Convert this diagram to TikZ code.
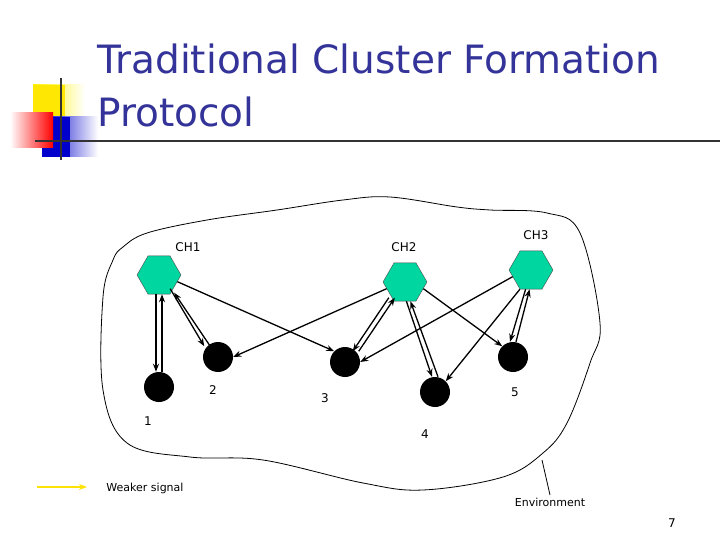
\documentclass[tikz,border=0pt]{standalone}
\usepackage{fontspec}
\setmainfont{DejaVu Sans}
\usetikzlibrary{shapes.geometric,arrows.meta}
\definecolor{ttl}{RGB}{51,51,153}
\definecolor{hexc}{RGB}{0,214,160}
\begin{document}
\begin{tikzpicture}[x=1pt,y=-1pt,
 ch/.style={regular polygon,regular polygon sides=6,draw=black!70,fill=hexc,minimum size=44pt,inner sep=0pt},
 nd/.style={circle,fill=black,minimum size=30pt,inner sep=0pt},
 ar/.style={-{Stealth[length=8pt,width=6pt]},line width=1.3pt},
 lb/.style={font=\fontsize{12}{14}\selectfont}]
\useasboundingbox (0,0) rectangle (720,540);
% decoration
\shade[left color=yellow!90!orange, right color=white] (33,85) rectangle (85,125);
\fill[yellow!90!orange] (33,85) rectangle (65,125);
\shade[left color=blue!80!black, right color=white] (42,117) rectangle (98,157);
\fill[blue!80!black] (42,117) rectangle (70,157);
\shade[left color=white, right color=red] (10,113) rectangle (53,148);
\draw[line width=1.5pt, black!80] (61,78) -- (61,160);
\draw[line width=1.5pt, black!80] (35,141) -- (720,141);
\node[anchor=west,text=ttl,font=\fontsize{39}{53}\selectfont,align=left,inner sep=0pt] (title) at (97,85) {Traditional Cluster Formation\\Protocol};
% environment
\draw[line width=0.8pt] plot[smooth cycle,tension=0.6] coordinates {(113,260) (103,297) (103,390) (127,443) (190,457) (263,460) (363,483) (423,490) (503,477) (543,453) (567,423) (590,363) (600,323) (580,233) (547,213) (490,210) (457,207) (390,197) (343,200) (277,210) (207,220) (147,233) (123,247)};
\coordinate (envp) at (542,460);
\node[lb,anchor=north,font=\fontsize{11}{13}\selectfont] (envl) at (550,495) {Environment};
\draw[line width=0.8pt] (envp) -- (envl.north);
% nodes
\node[ch] (c1) at (159,275) {};
\node[ch] (c2) at (405,282) {};
\node[ch] (c3) at (531,270) {};
\node[nd] (n1) at (159,387) {};
\node[nd] (n2) at (218,357) {};
\node[nd] (n3) at (345,362) {};
\node[nd] (n4) at (435,392) {};
\node[nd] (n5) at (513,357) {};
\node[lb] (l1) at (188,247) {CH1};
\node[lb] (l2) at (404,247) {CH2};
\node[lb] (l3) at (536,235) {CH3};
\node[lb] (t1) at (148,421) {1};
\node[lb] (t2) at (213,390) {2};
\node[lb] (t3) at (325,398) {3};
\node[lb] (t4) at (425,434) {4};
\node[lb] (t5) at (515,392) {5};
% arrows
\draw[ar] ([xshift=-3pt]c1.south) -- ([xshift=-3pt]n1.north);
\draw[ar] ([xshift=3pt]n1.north) -- ([xshift=3pt]c1.south);
\draw[ar] ([shift={(-2pt,2pt)}]c1.-50) -- ([shift={(-3pt,0pt)}]n2.north west);
\draw[ar] ([shift={(3pt,0pt)}]n2.north west) -- ([shift={(2pt,-2pt)}]c1.-50);
\draw[ar] (c1.-20) -- (n3.north west);
\draw[ar] (c2.-160) -- (n2.east);
\draw[ar] ([shift={(-3pt,0pt)}]c2.-130) -- ([shift={(-3pt,0pt)}]n3.north east);
\draw[ar] ([shift={(3pt,0pt)}]n3.north east) -- ([shift={(3pt,0pt)}]c2.-130);
\draw[ar] ([xshift=-2pt]c2.-80) -- ([xshift=-3pt]n4.north);
\draw[ar] ([xshift=3pt]n4.north) -- ([xshift=2pt]c2.-80);
\draw[ar] (c2.-20) -- (n5.north west);
\draw[ar] (c3.-160) -- (n3.east);
\draw[ar] (c3.-120) -- (n4.north east);
\draw[ar] ([xshift=-2pt]c3.-100) -- ([xshift=-3pt]n5.north);
\draw[ar] ([xshift=3pt]n5.north) -- ([xshift=2pt]c3.-100);
% legend
\coordinate (ws) at (37,487);
\coordinate (we) at (87,487);
\draw[-{Stealth[length=8pt,width=6pt]},line width=1.5pt,yellow!85!orange] (ws) -- (we);
\node[font=\fontsize{11}{13}\selectfont] (wl) at (145,488) {Weaker signal};
\node[lb] (pg) at (672,523) {7};
\end{tikzpicture}
\end{document}
